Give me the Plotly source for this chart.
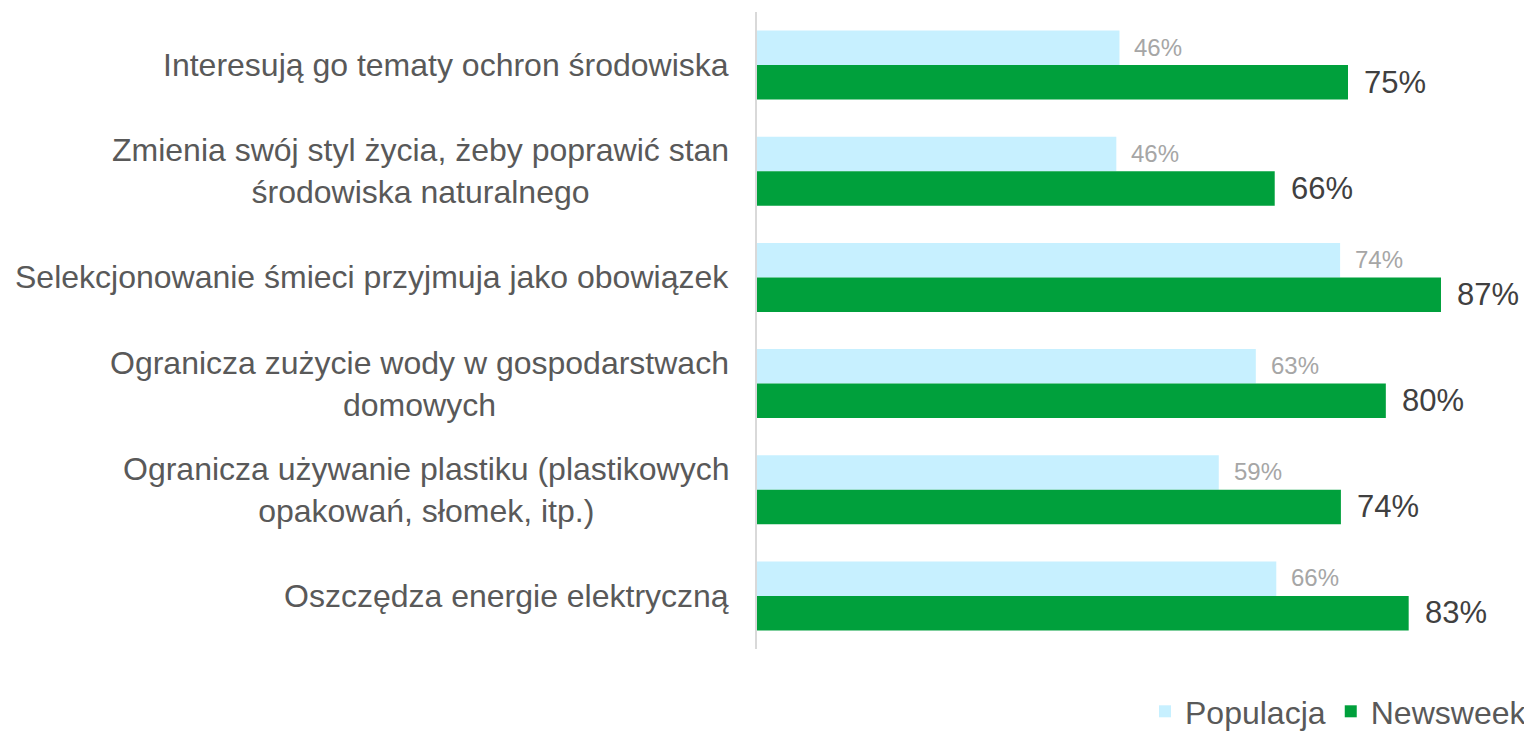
import plotly.graph_objects as go

categories = [
    "Interesują go tematy ochron środowiska",
    "Zmienia swój styl życia, żeby poprawić stan<br>środowiska naturalnego",
    "Selekcjonowanie śmieci przyjmuja jako obowiązek",
    "Ogranicza zużycie wody w gospodarstwach<br>domowych",
    "Ogranicza używanie plastiku (plastikowych<br>opakowań, słomek, itp.)",
    "Oszczędza energie elektryczną",
]
populacja = [46.0, 45.6, 74.0, 63.3, 58.6, 65.9]
newsweek = [75.0, 65.7, 86.8, 79.8, 74.1, 82.7]
series_names = ["Populacja", "Newsweek"]

FONT = "Liberation Sans, Arial, sans-serif"
C_POP = "#c7f0ff"
C_NEWS = "#00a03c"

fig = go.Figure()
fig.add_trace(go.Bar(y=categories, x=populacja, name=series_names[0], orientation="h",
                     marker=dict(color=C_POP, line=dict(width=0)), hoverinfo="skip"))
fig.add_trace(go.Bar(y=categories, x=newsweek, name=series_names[1], orientation="h",
                     marker=dict(color=C_NEWS, line=dict(width=0)), hoverinfo="skip"))

annotations = []
for c, p, n in zip(categories, populacja, newsweek):
    annotations.append(dict(x=p, y=c, xref="x", yref="y", text=f"{p:.0f}%", showarrow=False,
                            xanchor="left", yanchor="middle", xshift=13, yshift=18,
                            font=dict(family=FONT, size=24, color="#a6a6a6")))
    annotations.append(dict(x=n, y=c, xref="x", yref="y", text=f"{n:.0f}%", showarrow=False,
                            xanchor="left", yanchor="middle", xshift=14, yshift=-17,
                            font=dict(family=FONT, size=31, color="#404040")))
    annotations.append(dict(x=0, y=c, xref="paper", yref="y", text=c, showarrow=False,
                            xanchor="right", yanchor="middle", align="center", xshift=-26,
                            font=dict(family=FONT, size=32, color="#595959")))

fig.update_layout(
    width=1524, height=731,
    margin=dict(l=749, r=0, t=4, b=90),
    paper_bgcolor="white", plot_bgcolor="white",
    barmode="group", bargap=0.35, bargroupgap=0,
    font=dict(family=FONT, color="#595959"),
    xaxis=dict(range=[0, 98.35], showgrid=False, zeroline=False, showticklabels=False,
               ticks="", showline=False, fixedrange=True),
    yaxis=dict(autorange="reversed", showgrid=False, zeroline=False, showticklabels=False,
               ticks="", showline=True, linecolor="#d9d9d9", linewidth=2, fixedrange=True),
    legend=dict(orientation="h", xref="container", yref="container", x=1, xanchor="right",
                y=0, yanchor="bottom",
                font=dict(family=FONT, size=32, color="#595959"), traceorder="normal",
                itemwidth=30),
    annotations=annotations,
    showlegend=True,
)

fig.write_html("out.html")
